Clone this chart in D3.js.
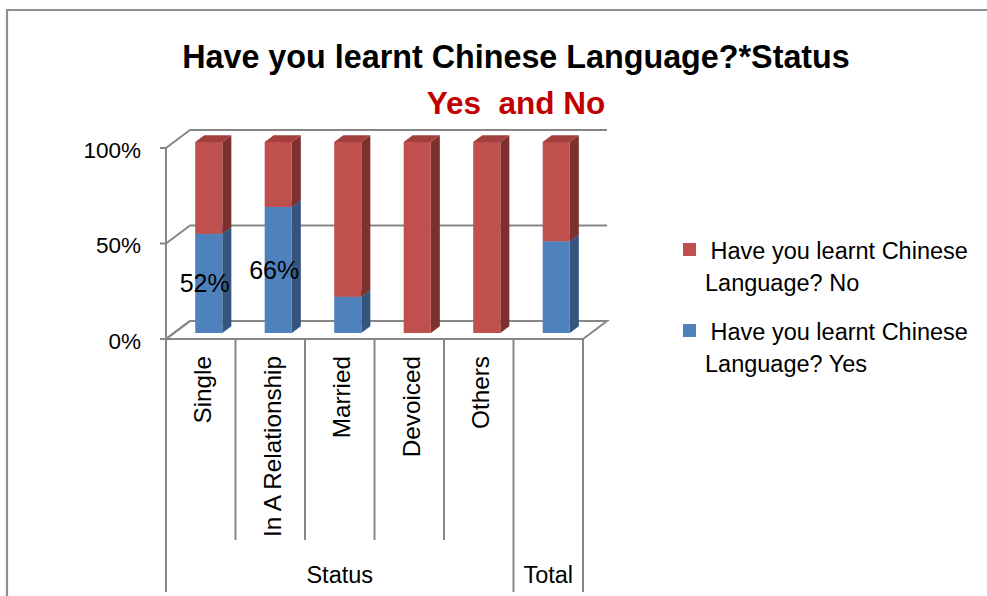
<!DOCTYPE html>
<html>
<head>
<meta charset="utf-8">
<script src="https://cdn.jsdelivr.net/npm/d3@7/dist/d3.min.js"></script>
<style>
  html, body { margin: 0; padding: 0; background: #ffffff; }
  svg { display: block; }
  text { font-family: "Liberation Sans", Arial, sans-serif; fill: #000; white-space: pre; }
</style>
</head>
<body>
<svg id="chart" width="987" height="596"></svg>
<script>
// Marital status categories and the share answering Yes / No
const categories = ["Single", "In A Relationship", "Married", "Devoiced", "Others", "Total"];
const groups = [
  { name: "Status", from: 0, to: 4 },
  { name: "Total", from: 5, to: 5 }
];
const yesShare = [0.52, 0.66, 0.19, 0.00, 0.00, 0.48];
const noShare  = [0.48, 0.34, 0.81, 1.00, 1.00, 0.52];
const showYesLabel = [true, true, false, false, false, false];
const yTicks = [0, 0.5, 1];
const seriesNames = ["Have you learnt Chinese Language? No", "Have you learnt Chinese Language? Yes"];
const legendLines = [
  [" Have you learnt Chinese", "Language? No"],
  [" Have you learnt Chinese", "Language? Yes"]
];

const svg = d3.select("#chart");
const grid = "#868686";

// outer frame
svg.append("path")
  .attr("d", "M7,596 L7,10 L987,10")
  .attr("fill", "none").attr("stroke", "#8e8e8e").attr("stroke-width", 2.2);

// titles
svg.append("text").attr("x", 516).attr("y", 68).attr("text-anchor", "middle")
  .style("font-weight", "bold").style("font-size", "32.3px")
  .text("Have you learnt Chinese Language?*Status");
svg.append("text").attr("x", 516).attr("y", 114).attr("text-anchor", "middle")
  .attr("xml:space", "preserve")
  .style("font-weight", "bold").style("font-size", "31.5px").style("fill", "#c00000")
  .text("Yes  and No");

// 3D projection: front plane plus a receding depth offset
const DX = 24, DY = -18;
const x = d3.scaleBand().domain(categories).range([166, 583]).padding(0);
const y = d3.scaleLinear().domain([0, 1]).range([339, 148]);
const P = (px, py, f) => [px + f * DX, py + f * DY];
const xLeft = x.range()[0], xRight = x.range()[1];

// floor
const floor = [P(xLeft, y(0), 0), P(xRight, y(0), 0), P(xRight, y(0), 1), P(xLeft, y(0), 1)];
svg.append("path").attr("d", "M" + floor.join("L") + "Z")
  .attr("fill", "none").attr("stroke", grid).attr("stroke-width", 2);

// side wall diagonals and back wall gridlines
yTicks.forEach(t => {
  const a = P(xLeft, y(t), 0), b = P(xLeft, y(t), 1), c = P(xRight, y(t), 1);
  svg.append("path").attr("d", `M${a}L${b}L${c}`)
    .attr("fill", "none").attr("stroke", grid).attr("stroke-width", 2);
});

// value axis
svg.append("line").attr("x1", xLeft).attr("x2", xLeft).attr("y1", y(1)).attr("y2", y(0))
  .attr("stroke", grid).attr("stroke-width", 2);
yTicks.forEach(t => {
  svg.append("line").attr("x1", xLeft - 6).attr("x2", xLeft).attr("y1", y(t)).attr("y2", y(t))
    .attr("stroke", grid).attr("stroke-width", 2);
  svg.append("text").attr("x", 141).attr("y", y(t) + 2).attr("dy", "0.35em")
    .attr("text-anchor", "end").style("font-size", "22.5px")
    .text(d3.format(".0%")(t));
});

// bars: stacked 3D columns
const colors = {
  yes: { front: "#4f81bd", top: "#3f6a9c", side: "#34557e" },
  no:  { front: "#c0504d", top: "#a3403d", side: "#7e302e" }
};
const barFrac = 0.39, d0 = 1 / 3, d1 = 0.71;
function drawBlock(cx, v0, v1, c) {
  if (v1 - v0 <= 0) return;
  const w = x.bandwidth() * barFrac;
  const xl = cx - w / 2, xr = cx + w / 2;
  const f = [P(xl, y(v1), d0), P(xr, y(v1), d0), P(xr, y(v0), d0), P(xl, y(v0), d0)];
  const s = [P(xr, y(v1), d0), P(xr, y(v1), d1), P(xr, y(v0), d1), P(xr, y(v0), d0)];
  const tp = [P(xl, y(v1), d0), P(xl, y(v1), d1), P(xr, y(v1), d1), P(xr, y(v1), d0)];
  svg.append("path").attr("d", "M" + s.join("L") + "Z").attr("fill", c.side);
  svg.append("path").attr("d", "M" + tp.join("L") + "Z").attr("fill", c.top);
  svg.append("path").attr("d", "M" + f.join("L") + "Z").attr("fill", c.front);
}
categories.forEach((cat, i) => {
  const cx = x(cat) + x.bandwidth() / 2;
  drawBlock(cx, 0, yesShare[i], colors.yes);
  drawBlock(cx, yesShare[i], yesShare[i] + noShare[i], colors.no);
});

// data labels on Yes segments
categories.forEach((cat, i) => {
  if (!showYesLabel[i]) return;
  const cx = x(cat) + x.bandwidth() / 2;
  const p = P(cx, y(yesShare[i] / 2), d0);
  svg.append("text").attr("x", p[0] - 4).attr("y", p[1]).attr("dy", "0.35em")
    .attr("text-anchor", "middle").style("font-size", "25px")
    .text(d3.format(".0%")(yesShare[i]));
});

// category axis: separators, rotated labels, group labels
const innerBottom = 540, outerBottom = 592;
const groupEdges = new Set();
groups.forEach(g => { groupEdges.add(g.from); groupEdges.add(g.to + 1); });
d3.range(categories.length + 1).forEach(k => {
  const xx = k < categories.length ? x(categories[k]) : xRight;
  svg.append("line").attr("x1", xx).attr("x2", xx).attr("y1", y(0))
    .attr("y2", groupEdges.has(k) ? outerBottom : innerBottom)
    .attr("stroke", grid).attr("stroke-width", 2);
});
categories.forEach((cat, i) => {
  if (cat === "Total") return;
  const cx = x(cat) + x.bandwidth() / 2 + 2;
  svg.append("text")
    .attr("transform", `translate(${cx},356) rotate(-90)`)
    .attr("dy", "0.35em").attr("text-anchor", "end").style("font-size", "24.3px")
    .text(cat);
});
groups.forEach(g => {
  const a = x(categories[g.from]);
  const b = x(categories[g.to]) + x.bandwidth();
  svg.append("text").attr("x", (a + b) / 2).attr("y", 583).attr("text-anchor", "middle")
    .style("font-size", "23.5px").text(g.name);
});

// legend
const legendColors = [colors.no.front, colors.yes.front];
seriesNames.forEach((name, i) => {
  const top = 243 + i * 81;
  svg.append("rect").attr("x", 683).attr("y", top).attr("width", 13).attr("height", 13)
    .attr("fill", legendColors[i]);
  const t = svg.append("text").style("font-size", "23.5px").attr("xml:space", "preserve");
  legendLines[i].forEach((line, j) => {
    t.append("tspan").attr("x", j === 0 ? 704 : 705).attr("y", top + 16 + j * 32).text(line);
  });
});
</script>
</body>
</html>
